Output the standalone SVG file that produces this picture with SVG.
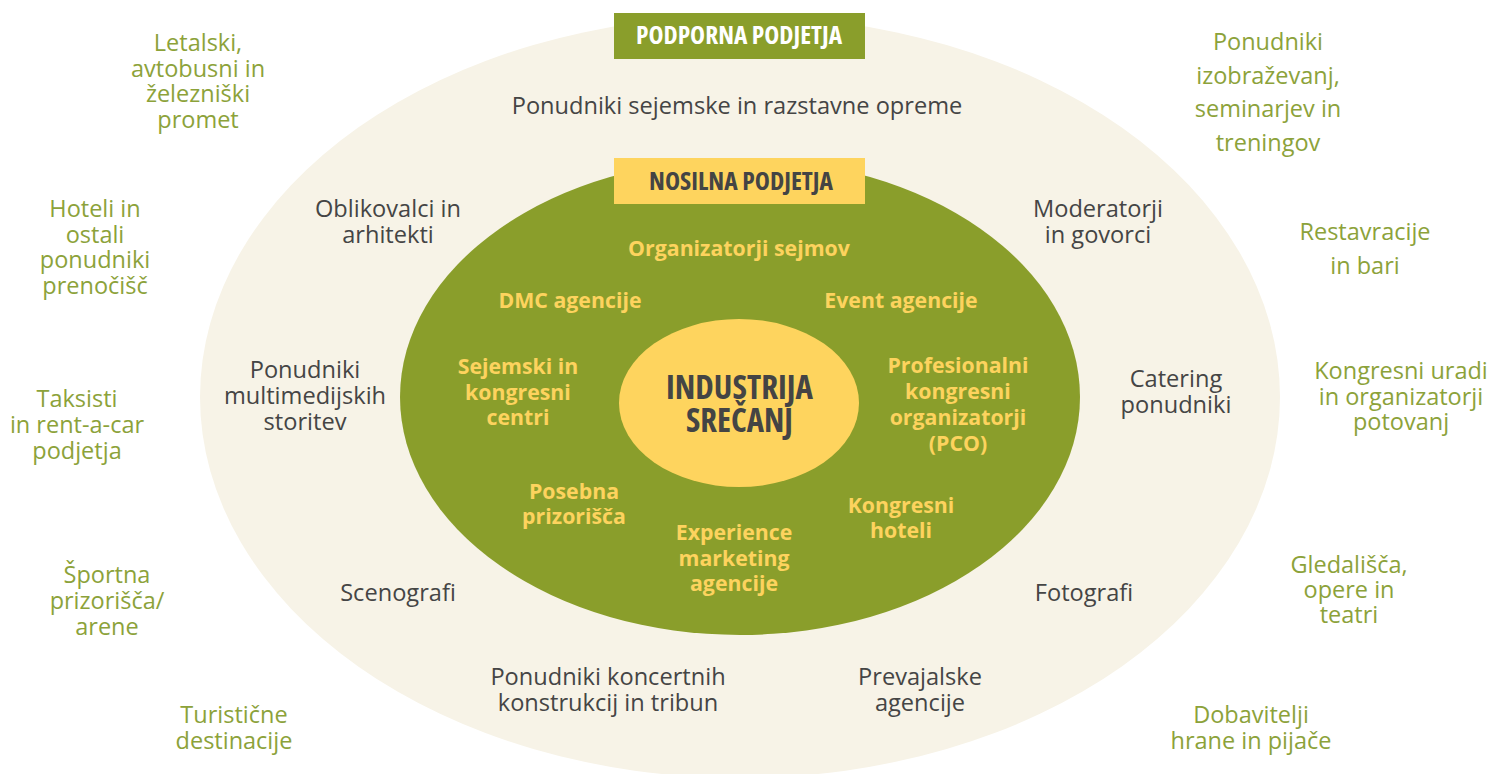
<svg xmlns="http://www.w3.org/2000/svg" width="1492" height="774" viewBox="0 0 1492 774">
<style>
  .t { font-family: "Open Sans", "Liberation Sans", sans-serif; text-anchor: middle; }
  .gray { font-size: 23.6px; fill: #454545; }
  .out { font-size: 23.5px; fill: #8CA23A; }
  .inner { font-size: 21.3px; font-weight: 700; fill: #FDD35E; }
  .head { font-family: "Open Sans", "Liberation Sans", sans-serif; font-weight: 700; font-stretch: condensed; text-anchor: middle; }
</style>
<rect x="0" y="0" width="1492" height="774" fill="#FFFFFF"/>

<g id="outer-ring">
  <ellipse cx="740" cy="397" rx="540" ry="381" fill="#F7F3E7"/>
</g>
<g id="inner-ring">
  <ellipse cx="740" cy="397" rx="340" ry="238" fill="#8A9E2B"/>
</g>
<g id="core">
  <ellipse cx="739" cy="403" rx="120" ry="84" fill="#FED45E"/>
  <text class="head" x="739.5" y="399" font-size="34" fill="#444444" textLength="147" lengthAdjust="spacingAndGlyphs">INDUSTRIJA</text>
  <text class="head" x="739.5" y="432" font-size="34" fill="#444444" textLength="107" lengthAdjust="spacingAndGlyphs">SREČANJ</text>
</g>

<g id="label-podporna">
  <rect x="614" y="13" width="251" height="46" fill="#8A9E2B"/>
  <text class="head" x="739" y="44" font-size="25" fill="#FFFFFF" textLength="206" lengthAdjust="spacingAndGlyphs">PODPORNA PODJETJA</text>
</g>
<g id="label-nosilna">
  <rect x="614" y="158" width="251" height="46" fill="#FED45E"/>
  <text class="head" x="741" y="190" font-size="25" fill="#444444" textLength="184" lengthAdjust="spacingAndGlyphs">NOSILNA PODJETJA</text>
</g>

<g id="connectors"></g>

<!-- inner (nosilna) nodes -->
<g id="n-organizatorji-sejmov"><text class="t inner" x="739" y="256">Organizatorji sejmov</text></g>
<g id="n-dmc"><text class="t inner" x="570" y="308">DMC agencije</text></g>
<g id="n-event"><text class="t inner" x="901" y="308">Event agencije</text></g>
<g id="n-sejemski-centri"><text class="t inner" x="518" y="374"><tspan x="518">Sejemski in</tspan><tspan x="518" dy="25.5">kongresni</tspan><tspan x="518" dy="25.5">centri</tspan></text></g>
<g id="n-pco"><text class="t inner" x="958" y="373"><tspan x="958">Profesionalni</tspan><tspan x="958" dy="26">kongresni</tspan><tspan x="958" dy="26">organizatorji</tspan><tspan x="958" dy="26">(PCO)</tspan></text></g>
<g id="n-posebna"><text class="t inner" x="574" y="499"><tspan x="574">Posebna</tspan><tspan x="574" dy="25">prizorišča</tspan></text></g>
<g id="n-experience"><text class="t inner" x="734" y="540"><tspan x="734">Experience</tspan><tspan x="734" dy="25.5">marketing</tspan><tspan x="734" dy="25.5">agencije</tspan></text></g>
<g id="n-kongresni-hoteli"><text class="t inner" x="901" y="513"><tspan x="901">Kongresni</tspan><tspan x="901" dy="25">hoteli</tspan></text></g>

<!-- middle ring (podporna) nodes -->
<g id="n-sejemska-oprema"><text class="t gray" x="737" y="114">Ponudniki sejemske in razstavne opreme</text></g>
<g id="n-oblikovalci"><text class="t gray" x="388" y="217"><tspan x="388">Oblikovalci in</tspan><tspan x="388" dy="26">arhitekti</tspan></text></g>
<g id="n-moderatorji"><text class="t gray" x="1098" y="217"><tspan x="1098">Moderatorji</tspan><tspan x="1098" dy="26">in govorci</tspan></text></g>
<g id="n-multimedija"><text class="t gray" x="305" y="378"><tspan x="305">Ponudniki</tspan><tspan x="305" dy="26">multimedijskih</tspan><tspan x="305" dy="26">storitev</tspan></text></g>
<g id="n-catering"><text class="t gray" x="1176" y="387"><tspan x="1176">Catering</tspan><tspan x="1176" dy="26">ponudniki</tspan></text></g>
<g id="n-scenografi"><text class="t gray" x="398" y="601">Scenografi</text></g>
<g id="n-fotografi"><text class="t gray" x="1084" y="601">Fotografi</text></g>
<g id="n-koncertne"><text class="t gray" x="608" y="685"><tspan x="608">Ponudniki koncertnih</tspan><tspan x="608" dy="26">konstrukcij in tribun</tspan></text></g>
<g id="n-prevajalske"><text class="t gray" x="920" y="685"><tspan x="920">Prevajalske</tspan><tspan x="920" dy="26">agencije</tspan></text></g>

<!-- outer nodes -->
<g id="n-promet"><text class="t out" x="198" y="51"><tspan x="198">Letalski,</tspan><tspan x="198" dy="25.5">avtobusni in</tspan><tspan x="198" dy="25.5">železniški</tspan><tspan x="198" dy="25.5">promet</tspan></text></g>
<g id="n-hoteli"><text class="t out" x="95" y="217"><tspan x="95">Hoteli in</tspan><tspan x="95" dy="25.7">ostali</tspan><tspan x="95" dy="25.7">ponudniki</tspan><tspan x="95" dy="25.7">prenočišč</tspan></text></g>
<g id="n-taksisti"><text class="t out" x="77" y="407"><tspan x="77">Taksisti</tspan><tspan x="77" dy="26">in rent-a-car</tspan><tspan x="77" dy="26">podjetja</tspan></text></g>
<g id="n-sportna"><text class="t out" x="107" y="583"><tspan x="107">Športna</tspan><tspan x="107" dy="26">prizorišča/</tspan><tspan x="107" dy="26">arene</tspan></text></g>
<g id="n-turisticne"><text class="t out" x="234" y="723"><tspan x="234">Turistične</tspan><tspan x="234" dy="25.5">destinacije</tspan></text></g>
<g id="n-izobrazevanja"><text class="t out" x="1268" y="50"><tspan x="1268">Ponudniki</tspan><tspan x="1268" dy="33.7">izobraževanj,</tspan><tspan x="1268" dy="33.7">seminarjev in</tspan><tspan x="1268" dy="33.7">treningov</tspan></text></g>
<g id="n-restavracije"><text class="t out" x="1365" y="240"><tspan x="1365">Restavracije</tspan><tspan x="1365" dy="34">in bari</tspan></text></g>
<g id="n-kongresni-uradi"><text class="t out" x="1401" y="379"><tspan x="1401">Kongresni uradi</tspan><tspan x="1401" dy="25.5">in organizatorji</tspan><tspan x="1401" dy="25.5">potovanj</tspan></text></g>
<g id="n-gledalisca"><text class="t out" x="1349" y="573"><tspan x="1349">Gledališča,</tspan><tspan x="1349" dy="25">opere in</tspan><tspan x="1349" dy="25">teatri</tspan></text></g>
<g id="n-dobavitelji"><text class="t out" x="1251" y="723"><tspan x="1251">Dobavitelji</tspan><tspan x="1251" dy="25.5">hrane in pijače</tspan></text></g>
</svg>
